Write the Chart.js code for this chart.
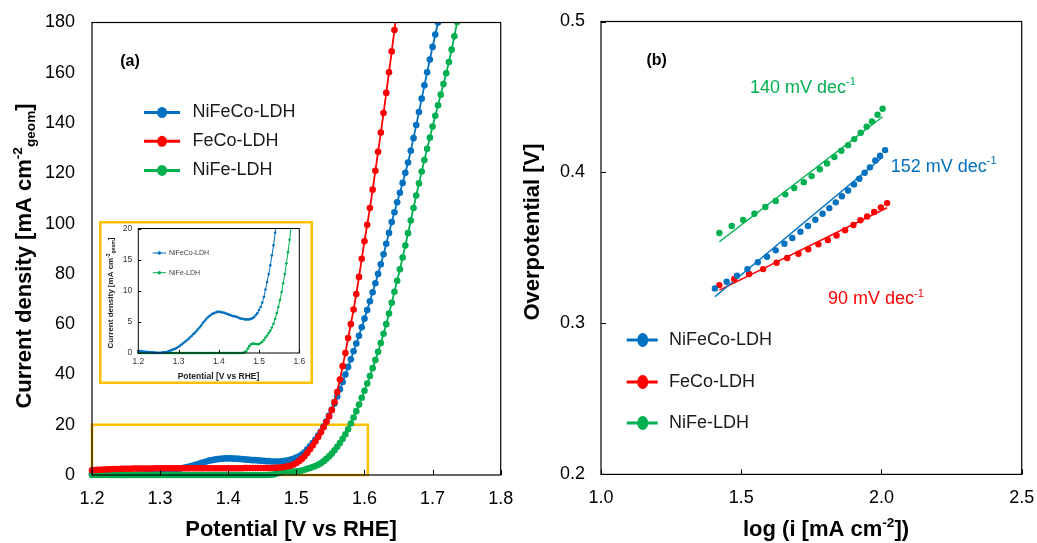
<!DOCTYPE html>
<html>
<head>
<meta charset="utf-8">
<title>LSV and Tafel plots</title>
<script src="https://cdn.jsdelivr.net/npm/chart.js@4.4.1/dist/chart.umd.min.js"></script>
<style>
  body { margin: 0; background: #fff; }
  #page { position: relative; width: 1037px; height: 543px; overflow: hidden; background: #fff; }
  .box { position: absolute; }
  #insetBox { background: #fff; }
</style>
</head>
<body>
<div id="page">
  <div class="box" style="left:0;top:0"><canvas id="lsvChart" width="518" height="543"></canvas></div>
  <div class="box" id="insetBox" style="left:99px;top:221px"><canvas id="insetChart" width="214" height="163"></canvas></div>
  <div class="box" style="left:518px;top:0"><canvas id="tafelChart" width="519" height="543"></canvas></div>
</div>
<script>
// ---- data: polarisation curves (V vs RHE, mA cm-2 geom) ----
const potential = [
  1.200,1.204,1.208,1.212,1.216,1.220,1.224,1.228,1.232,1.236,
  1.240,1.244,1.248,1.252,1.256,1.260,1.264,1.268,1.272,1.276,
  1.280,1.284,1.288,1.292,1.296,1.300,1.304,1.308,1.312,1.316,
  1.320,1.324,1.328,1.332,1.336,1.340,1.344,1.348,1.352,1.356,
  1.360,1.364,1.368,1.372,1.376,1.380,1.384,1.388,1.392,1.396,
  1.400,1.404,1.408,1.412,1.416,1.420,1.424,1.428,1.432,1.436,
  1.440,1.444,1.448,1.452,1.456,1.460,1.464,1.468,1.472,1.476,
  1.480,1.484,1.488,1.492,1.496,1.500,1.504,1.508,1.512,1.516,
  1.520,1.524,1.528,1.532,1.536,1.540,1.544,1.548,1.552,1.556,
  1.560,1.564,1.568,1.572,1.576,1.580,1.584,1.588,1.592,1.596,
  1.600,1.604,1.608,1.612,1.616,1.620,1.624,1.628,1.632,1.636,
  1.640,1.644,1.648,1.652,1.656,1.660,1.664,1.668,1.672,1.676,
  1.680,1.684,1.688,1.692,1.696,1.700,1.704,1.708,1.712,1.716,
  1.720,1.724,1.728,1.732,1.736,1.740
];

const nifecoCurrent = [
  0.3,0.3,0.3,0.25,0.2,0.2,0.15,0.15,0.1,0.1,
  0.1,0.05,0.05,0.05,0.05,0.1,0.1,0.15,0.2,0.3,
  0.4,0.5,0.6,0.7,0.85,1.0,1.2,1.4,1.6,1.8,
  2.0,2.2,2.5,2.7,3.0,3.2,3.5,3.8,4.1,4.4,
  4.8,5.1,5.4,5.7,5.9,6.1,6.3,6.4,6.5,6.6,
  6.6,6.6,6.5,6.5,6.4,6.3,6.2,6.1,6.0,5.9,
  5.9,5.8,5.7,5.6,5.5,5.5,5.4,5.4,5.4,5.4,
  5.5,5.6,5.8,6.1,6.4,6.9,7.4,8.1,9.0,10.2,
  11.4,12.7,14.1,15.7,17.3,19.3,21.4,23.6,25.9,28.4,
  31.2,34.1,37.0,40.0,43.0,46.0,49.2,52.3,55.4,58.8,
  62.2,65.6,69.1,72.7,76.3,80.0,83.8,87.8,92.0,96.3,
  100.6,104.5,108.5,112.3,116.2,120.2,124.3,129.0,134.0,139.2,
  144.4,149.7,155.0,160.2,165.3,170.3,175.2,180.0,184.8,null,
  null,null,null,null,null,null
];

const fecoCurrent = [
  1.9,2.0,2.1,2.1,2.2,2.2,2.3,2.3,2.4,2.4,
  2.4,2.5,2.5,2.5,2.5,2.6,2.6,2.6,2.6,2.6,
  2.6,2.6,2.6,2.7,2.7,2.7,2.7,2.7,2.7,2.7,
  2.7,2.7,2.7,2.7,2.7,2.7,2.7,2.7,2.7,2.7,
  2.7,2.7,2.7,2.7,2.7,2.7,2.7,2.7,2.7,2.7,
  2.7,2.7,2.7,2.7,2.7,2.7,2.8,2.8,2.8,2.8,
  2.8,2.8,2.8,2.8,2.8,2.8,2.8,2.9,2.9,3.0,
  3.1,3.3,3.5,3.8,4.2,4.8,5.5,6.4,7.5,8.8,
  10.2,11.7,13.3,15.1,17.0,19.0,21.1,23.3,25.8,29.0,
  33.0,38.0,43.3,48.5,54.5,60.0,65.8,72.0,78.8,86.0,
  93.0,99.5,106.2,113.5,121.0,128.6,136.2,144.0,152.0,160.2,
  168.5,177.0,185.5,null,null,null,null,null,null,null,
  null,null,null,null,null,null,null,null,null,null,
  null,null,null,null,null,null
];

const nifeCurrent = [
  0,0,0,0,0,0,0,0,0,0,
  0,0,0,0,0,0,0,0,0,0,
  0,0,0,0,0,0,0,0,0,0,
  0,0,0,0,0,0,0,0,0,0,
  0,0,0,0,0,0,0,0,0,0,
  0,0,0,0,0,0,0,0,0,0,
  0,0,0,0,0,0.05,0.1,0.3,0.7,1.1,
  1.4,1.5,1.5,1.45,1.4,1.45,1.6,1.8,2.1,2.5,
  2.8,3.2,3.6,4.1,4.7,5.5,6.4,7.4,8.5,9.8,
  11.2,12.7,14.4,16.2,18.2,20.5,22.9,25.4,28.0,30.7,
  33.5,36.4,39.4,42.5,45.7,49.0,52.5,56.2,60.0,64.2,
  68.5,72.9,77.3,81.8,86.5,91.3,96.2,101.2,106.2,111.2,
  116.0,120.7,125.3,129.8,134.2,138.6,142.9,147.1,151.3,155.5,
  159.8,164.3,169.2,174.5,180.2,186.0
];

// ---- data: Tafel plot (log i, overpotential V) ----
const nifecoLogI = [1.406,1.448,1.485,1.522,1.559,1.592,1.623,1.654,1.682,1.711,1.738,1.764,
  1.790,1.814,1.837,1.859,1.881,1.902,1.921,1.940,1.959,1.978,1.995,2.013];
const nifecoEta = [0.3232,0.3276,0.3316,0.3360,0.3405,0.3442,0.3484,0.3528,0.3566,0.3607,0.3645,0.3687,
  0.3727,0.3764,0.3802,0.3842,0.3881,0.3921,0.3958,0.3998,0.4034,0.4080,0.4111,0.4148];
const fecoLogI = [1.422,1.475,1.528,1.578,1.626,1.664,1.704,1.739,1.775,1.809,1.840,1.870,
  1.900,1.925,1.949,1.974,1.998,2.020];
const fecoEta = [0.3254,0.3294,0.3327,0.3360,0.3402,0.3433,0.3462,0.3491,0.3524,0.3552,0.3583,0.3617,
  0.3652,0.3683,0.3709,0.3738,0.3769,0.3797];
const nifeLogI = [1.422,1.466,1.507,1.547,1.586,1.623,1.657,1.689,1.723,1.751,1.780,1.806,
  1.832,1.857,1.881,1.903,1.926,1.947,1.966,1.986,2.004];
const nifeEta = [0.3599,0.3645,0.3685,0.3727,0.3771,0.3811,0.3855,0.3897,0.3936,0.3976,0.4021,0.4060,
  0.4102,0.4144,0.4181,0.4221,0.4263,0.4303,0.4338,0.4382,0.4422];

// linear fits (end points)
const nifecoFitLogI = [1.406, 2.006];
const nifecoFitEta = [0.3177, 0.4104];
const fecoFitLogI = [1.422, 2.020];
const fecoFitEta = [0.3221, 0.3766];
const nifeFitLogI = [1.422, 2.004];
const nifeFitEta = [0.3541, 0.4369];

const seriesNames = ["NiFeCo-LDH", "FeCo-LDH", "NiFe-LDH"];
const slopeLabels = ["152 mV dec", "90 mV dec", "140 mV dec"];

const BLUE = "#0070C0";
const RED = "#FF0000";
const GREEN = "#00B050";
const GOLD = "#FFC000";
const FONT = "Arial, 'Liberation Sans', sans-serif";

const toPoints = (xs, ys) =>
  xs.map((x, i) => ({ x: x, y: ys[i] })).filter((p) => p.y !== null && p.y !== undefined);

// draws a run of text with super/subscripts; runs = [[text, "n"|"sup"|"sub"], ...]
const drawRich = (ctx, runs, x, y, o) => {
  const weight = o.bold ? "bold " : "";
  const parts = runs.map(([t, k]) => {
    const size = k === "n" ? o.size : o.size * 0.62;
    const dy = k === "sup" ? -o.size * 0.32 : k === "sub" ? o.size * 0.3 : 0;
    ctx.font = weight + size + "px " + FONT;
    return { t: t, font: ctx.font, dy: dy, w: ctx.measureText(t).width };
  });
  const total = parts.reduce((s, p) => s + p.w, 0);
  ctx.save();
  ctx.translate(x, y);
  if (o.rotate) ctx.rotate(o.rotate);
  ctx.fillStyle = o.color || "#000";
  ctx.textBaseline = "middle";
  ctx.textAlign = "left";
  let cx = o.align === "left" ? 0 : -total / 2;
  parts.forEach((p) => {
    ctx.font = p.font;
    ctx.fillText(p.t, cx, p.dy);
    cx += p.w;
  });
  ctx.restore();
};

// frame, inward ticks, titles, legend, zoom rectangle
const decor = (o) => ({
  id: "decor",
  beforeDatasetsDraw(chart) {
    if (!o.zoomBox) return;
    const ctx = chart.ctx;
    const { x, y } = chart.scales;
    const x0 = x.getPixelForValue(o.zoomBox[0]);
    const x1 = x.getPixelForValue(o.zoomBox[1]);
    const y0 = y.getPixelForValue(o.zoomBox[2]);
    const y1 = y.getPixelForValue(o.zoomBox[3]);
    ctx.save();
    ctx.strokeStyle = GOLD;
    ctx.lineWidth = 2.5;
    ctx.strokeRect(x0, y1, x1 - x0, y0 - y1);
    ctx.restore();
  },
  afterDraw(chart) {
    const ctx = chart.ctx;
    const a = chart.chartArea;
    const { x, y } = chart.scales;
    ctx.save();
    ctx.strokeStyle = "#000";
    ctx.lineWidth = 1;
    ctx.beginPath();
    if (o.tickX) {
      x.ticks.forEach((t) => {
        const px = Math.round(x.getPixelForValue(t.value)) + 0.5;
        ctx.moveTo(px, a.bottom);
        ctx.lineTo(px, a.bottom - o.tickX);
      });
    }
    if (o.tickY) {
      y.ticks.forEach((t) => {
        const py = Math.round(y.getPixelForValue(t.value)) + 0.5;
        ctx.moveTo(a.left, py);
        ctx.lineTo(a.left + o.tickY, py);
      });
    }
    ctx.stroke();
    ctx.lineWidth = o.frameWidth || 1.2;
    ctx.strokeRect(a.left, a.top, a.right - a.left, a.bottom - a.top);
    if (o.outerBorder) {
      ctx.strokeStyle = GOLD;
      ctx.lineWidth = 2.5;
      ctx.strokeRect(1.25, 1.25, chart.width - 2.5, chart.height - 2.5);
    }
    ctx.restore();

    (o.texts || []).forEach((t) => drawRich(ctx, t.runs, t.x, t.y, t));

    const lg = o.legend;
    if (lg) {
      lg.items.forEach((item, i) => {
        const ly = lg.ys[i];
        ctx.save();
        ctx.strokeStyle = item.color;
        ctx.fillStyle = item.color;
        ctx.lineWidth = lg.lineWidth;
        ctx.beginPath();
        ctx.moveTo(lg.x0, ly);
        ctx.lineTo(lg.x1, ly);
        ctx.stroke();
        ctx.beginPath();
        ctx.ellipse(lg.mx, ly, lg.rx, lg.ry, 0, 0, Math.PI * 2);
        ctx.fill();
        ctx.fillStyle = lg.textColor;
        ctx.font = lg.size + "px " + FONT;
        ctx.textBaseline = "middle";
        ctx.textAlign = "left";
        ctx.fillText(item.label, lg.tx, ly);
        ctx.restore();
      });
    }
  },
});

const tickFont = (size) => ({ family: FONT, size: size });
const oneDecimal = (v) => Number(v).toFixed(1);
const noGrid = { display: false, drawTicks: false, tickLength: 0 };

// fixed scale boxes so the plot area lands where the original has it
const fitX = (h) => (s) => { s.height = h; s.paddingLeft = 0; s.paddingRight = 0; };
const fitY = (w) => (s) => { s.width = w; s.paddingTop = 0; s.paddingBottom = 0; };

const lsvDataset = (label, values, color, order, radius, width, clip) => ({
  label: label,
  data: toPoints(potential, values),
  borderColor: color,
  backgroundColor: color,
  borderWidth: width,
  pointRadius: radius,
  pointBorderWidth: 0,
  pointHoverRadius: radius,
  tension: 0,
  order: order,
  clip: clip,
});

// ---- (a) polarisation curves ----
const mainClip = { left: 5, top: 0, right: 0, bottom: 5 };
new Chart(document.getElementById("lsvChart"), {
  type: "line",
  data: {
    datasets: [
      lsvDataset(seriesNames[1], fecoCurrent, RED, 0, 3.3, 1.8, mainClip),
      lsvDataset(seriesNames[2], nifeCurrent, GREEN, 1, 3.3, 1.8, mainClip),
      lsvDataset(seriesNames[0], nifecoCurrent, BLUE, 2, 3.3, 1.8, mainClip),
    ],
  },
  options: {
    responsive: false,
    animation: false,
    devicePixelRatio: 1,
    layout: { padding: { left: 0, top: 22.5, right: 17.3, bottom: 0 } },
    plugins: { legend: { display: false }, tooltip: { enabled: false } },
    scales: {
      x: {
        type: "linear",
        min: 1.2,
        max: 1.8,
        border: { display: false },
        grid: noGrid,
        ticks: { stepSize: 0.1, autoSkip: false, maxRotation: 0, padding: 13, color: "#000", font: tickFont(18), callback: oneDecimal },
        afterFit: fitX(68),
      },
      y: {
        min: 0,
        max: 180,
        border: { display: false },
        grid: noGrid,
        ticks: { stepSize: 20, autoSkip: false, padding: 17, color: "#000", font: tickFont(18) },
        afterFit: fitY(92),
      },
    },
  },
  plugins: [
    decor({
      tickX: 5,
      tickY: 0,
      zoomBox: [1.2, 1.605, 0, 20],
      texts: [
        { runs: [["Potential [V vs RHE]", "n"]], x: 291, y: 530, size: 22, bold: true },
        { runs: [["Current density [mA cm", "n"], ["-2", "sup"], ["geom", "sub"], ["]", "n"]], x: 25, y: 256, size: 22, bold: true, rotate: -Math.PI / 2 },
        { runs: [["(a)", "n"]], x: 130, y: 62, size: 16, bold: true },
      ],
      legend: {
        items: [
          { label: seriesNames[0], color: BLUE },
          { label: seriesNames[1], color: RED },
          { label: seriesNames[2], color: GREEN },
        ],
        ys: [112.5, 141.3, 170.4],
        x0: 144, x1: 180, mx: 162, tx: 192.5,
        rx: 5, ry: 5.5, lineWidth: 3, size: 18, textColor: "#1a1a1a",
      },
    }),
  ],
});

// ---- inset: low current region ----
const insetClip = { left: 2, top: 0, right: 0, bottom: 2 };
new Chart(document.getElementById("insetChart"), {
  type: "line",
  data: {
    datasets: [
      lsvDataset(seriesNames[2], nifeCurrent, GREEN, 1, 1.3, 1, insetClip),
      lsvDataset(seriesNames[0], nifecoCurrent, BLUE, 0, 1.3, 1, insetClip),
    ],
  },
  options: {
    responsive: false,
    animation: false,
    devicePixelRatio: 1,
    layout: { padding: { left: 0, top: 7.5, right: 13.7, bottom: 0 } },
    plugins: { legend: { display: false }, tooltip: { enabled: false } },
    scales: {
      x: {
        type: "linear",
        min: 1.2,
        max: 1.6,
        border: { display: false },
        grid: noGrid,
        ticks: { stepSize: 0.1, autoSkip: false, maxRotation: 0, padding: 4, color: "#333", font: tickFont(8.5), callback: oneDecimal },
        afterFit: fitX(31),
      },
      y: {
        min: 0,
        max: 20,
        border: { display: false },
        grid: noGrid,
        ticks: { stepSize: 5, autoSkip: false, padding: 6, color: "#333", font: tickFont(8.5) },
        afterFit: fitY(39.3),
      },
    },
  },
  plugins: [
    decor({
      tickX: 3,
      tickY: 3,
      frameWidth: 1,
      outerBorder: true,
      texts: [
        { runs: [["Potential [V vs RHE]", "n"]], x: 119.5, y: 155.5, size: 8.5, bold: true, color: "#222" },
        { runs: [["Current density [mA cm", "n"], ["-2", "sup"], ["geom", "sub"], ["]", "n"]], x: 12, y: 72, size: 8, bold: true, rotate: -Math.PI / 2, color: "#222" },
      ],
      legend: {
        items: [
          { label: seriesNames[0], color: BLUE },
          { label: seriesNames[2], color: GREEN },
        ],
        ys: [32, 51.7],
        x0: 53.7, x1: 67, mx: 60.3, tx: 70,
        rx: 1.8, ry: 1.8, lineWidth: 1, size: 7, textColor: "#404040",
      },
    }),
  ],
});

// ---- (b) Tafel plot ----
const dots = (label, xs, ys, color) => ({
  type: "scatter",
  label: label,
  data: toPoints(xs, ys),
  backgroundColor: color,
  borderColor: color,
  pointRadius: 3.2,
  pointBorderWidth: 0,
  order: 0,
});
const fit = (xs, ys, color) => ({
  type: "line",
  data: toPoints(xs, ys),
  borderColor: color,
  borderWidth: 1.5,
  pointRadius: 0,
  order: 1,
});

new Chart(document.getElementById("tafelChart"), {
  type: "scatter",
  data: {
    datasets: [
      dots(seriesNames[0], nifecoLogI, nifecoEta, BLUE),
      dots(seriesNames[1], fecoLogI, fecoEta, RED),
      dots(seriesNames[2], nifeLogI, nifeEta, GREEN),
      fit(nifecoFitLogI, nifecoFitEta, BLUE),
      fit(fecoFitLogI, fecoFitEta, RED),
      fit(nifeFitLogI, nifeFitEta, GREEN),
    ],
  },
  options: {
    responsive: false,
    animation: false,
    devicePixelRatio: 1,
    layout: { padding: { left: 0, top: 21.5, right: 15.3, bottom: 0 } },
    plugins: { legend: { display: false }, tooltip: { enabled: false } },
    scales: {
      x: {
        type: "linear",
        min: 1.0,
        max: 2.5,
        border: { display: false },
        grid: noGrid,
        ticks: { stepSize: 0.5, autoSkip: false, maxRotation: 0, padding: 13, color: "#000", font: tickFont(18), callback: oneDecimal },
        afterFit: fitX(68.6),
      },
      y: {
        min: 0.2,
        max: 0.5,
        border: { display: false },
        grid: noGrid,
        ticks: { stepSize: 0.1, autoSkip: false, padding: 16, color: "#000", font: tickFont(18), callback: oneDecimal },
        afterFit: fitY(83),
      },
    },
  },
  plugins: [
    decor({
      tickX: 5,
      tickY: 5,
      texts: [
        { runs: [["log (i [mA cm", "n"], ["-2", "sup"], ["])", "n"]], x: 308, y: 530, size: 22, bold: true },
        { runs: [["Overpotential [V]", "n"]], x: 15, y: 232, size: 22, bold: true, rotate: -Math.PI / 2 },
        { runs: [["(b)", "n"]], x: 138.7, y: 61, size: 16, bold: true },
        { runs: [[slopeLabels[2], "n"], ["-1", "sup"]], x: 232, y: 88, size: 18, align: "left", color: GREEN },
        { runs: [[slopeLabels[0], "n"], ["-1", "sup"]], x: 372.7, y: 167, size: 18, align: "left", color: BLUE },
        { runs: [[slopeLabels[1], "n"], ["-1", "sup"]], x: 310, y: 299.5, size: 18, align: "left", color: RED },
      ],
      legend: {
        items: [
          { label: seriesNames[0], color: BLUE },
          { label: seriesNames[1], color: RED },
          { label: seriesNames[2], color: GREEN },
        ],
        ys: [340, 382, 423],
        x0: 108.7, x1: 139.7, mx: 124.7, tx: 151,
        rx: 5.5, ry: 7, lineWidth: 3, size: 18, textColor: "#1a1a1a",
      },
    }),
  ],
});
</script>
</body>
</html>
